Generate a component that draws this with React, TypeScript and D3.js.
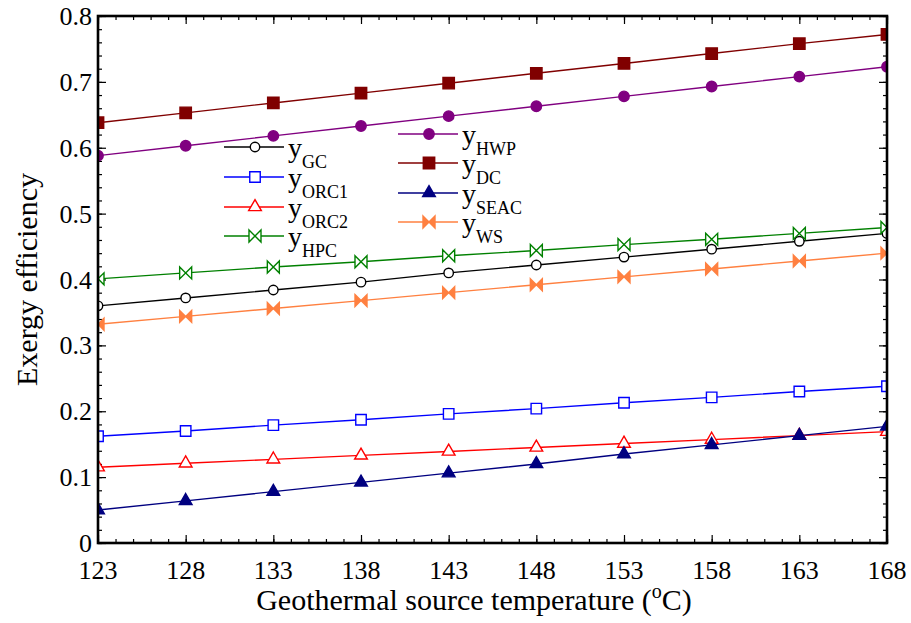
import { useEffect, useRef } from "react";
import * as d3 from "d3";

// Geothermal source temperature (°C)
const temps = [123, 128, 133, 138, 143, 148, 153, 158, 163, 168];

// Exergy efficiency of each subsystem
const yGC = [0.36, 0.372, 0.384, 0.396, 0.41, 0.422, 0.434, 0.446, 0.458, 0.47];
const yORC1 = [0.162, 0.17, 0.179, 0.187, 0.196, 0.204, 0.213, 0.221, 0.23, 0.238];
const yORC2 = [0.115, 0.121, 0.127, 0.133, 0.139, 0.145, 0.151, 0.157, 0.163, 0.169];
const yHPC = [0.401, 0.41, 0.419, 0.427, 0.436, 0.444, 0.453, 0.461, 0.47, 0.479];
const yHWP = [0.588, 0.603, 0.618, 0.633, 0.648, 0.663, 0.678, 0.693, 0.708, 0.723];
const yDC = [0.638, 0.653, 0.668, 0.683, 0.698, 0.713, 0.728, 0.743, 0.758, 0.772];
const ySEAC = [0.05, 0.064, 0.078, 0.092, 0.106, 0.12, 0.135, 0.149, 0.163, 0.177];
const yWS = [0.332, 0.344, 0.356, 0.368, 0.38, 0.392, 0.404, 0.416, 0.428, 0.44];

const xTicks = temps;
const yTicks = [0, 0.1, 0.2, 0.3, 0.4, 0.5, 0.6, 0.7, 0.8];

const FONT = '"Times New Roman", Tinos, "Liberation Serif", "DejaVu Serif", serif';

const bowtie = "M-6,-6L6,6L6,-6L-6,6Z";

const series = [
    { sub: "GC", values: yGC, color: "#000000", marker: "circle", fill: "#ffffff" },
    { sub: "ORC1", values: yORC1, color: "#0000ff", marker: "square", fill: "#ffffff" },
    { sub: "ORC2", values: yORC2, color: "#ff0000", marker: "triangle", fill: "#ffffff" },
    { sub: "HPC", values: yHPC, color: "#008000", marker: "bowtie", fill: "#ffffff" },
    { sub: "HWP", values: yHWP, color: "#800080", marker: "circle", fill: "#800080" },
    { sub: "DC", values: yDC, color: "#800000", marker: "square", fill: "#800000" },
    { sub: "SEAC", values: ySEAC, color: "#000080", marker: "triangle", fill: "#000080" },
    { sub: "WS", values: yWS, color: "#ff8040", marker: "bowtie", fill: "#ff8040" },
];

const markerPath = (type, filled) => {
    if (type === "bowtie") return bowtie;
    if (type === "circle") return d3.symbol(d3.symbolCircle, filled ? 85 : 70)();
    if (type === "square") return d3.symbol(d3.symbolSquare, filled ? 130 : 110)();
    return d3.symbol(d3.symbolTriangle, 70)();
};

const App = () => {
    const chartRef = useRef();

    useEffect(() => {
        const svg = d3.select(chartRef.current);
        svg.selectAll("*").remove();

        const width = 911;
        const height = 623;
        const margin = { top: 16, right: 24, bottom: 80, left: 98 };

        const x = d3
            .scaleLinear()
            .domain([123, 168])
            .range([margin.left, width - margin.right]);

        const y = d3
            .scaleLinear()
            .domain([0, 0.8])
            .range([height - margin.bottom, margin.top]);

        svg.attr("width", width).attr("height", height).attr("viewBox", `0 0 ${width} ${height}`);

        svg.append("rect").attr("width", width).attr("height", height).attr("fill", "#ffffff");

        svg.append("clipPath")
            .attr("id", "plot-clip")
            .append("rect")
            .attr("x", margin.left)
            .attr("y", margin.top)
            .attr("width", width - margin.left - margin.right)
            .attr("height", height - margin.top - margin.bottom);

        // ticks on all four sides, pointing inward
        const minorX = d3.range(123, 168.5, 1);
        const minorY = d3.range(0, 0.801, 0.02);
        const tickGroups = [
            { axis: d3.axisBottom, scale: x, pos: `translate(0,${y(0)})` },
            { axis: d3.axisTop, scale: x, pos: `translate(0,${y(0.8)})` },
            { axis: d3.axisLeft, scale: y, pos: `translate(${x(123)},0)` },
            { axis: d3.axisRight, scale: y, pos: `translate(${x(168)},0)` },
        ];
        tickGroups.forEach((t) => {
            const isX = t.scale === x;
            [
                { vals: isX ? minorX : minorY, size: -4 },
                { vals: isX ? xTicks : yTicks, size: -8 },
            ].forEach((o) => {
                const g = svg
                    .append("g")
                    .attr("transform", t.pos)
                    .call(t.axis(t.scale).tickValues(o.vals).tickSize(o.size).tickFormat(() => ""));
                g.select(".domain").remove();
                g.selectAll("line").attr("stroke", "#000").attr("stroke-width", 1.2);
                g.selectAll("text").remove();
            });
        });

        // lines and markers
        const line = d3
            .line()
            .x((d, i) => x(temps[i]))
            .y((d) => y(d));

        const plot = svg.append("g").attr("clip-path", "url(#plot-clip)");
        series.forEach((s) => {
            plot.append("path")
                .datum(s.values)
                .attr("d", line)
                .attr("fill", "none")
                .attr("stroke", s.color)
                .attr("stroke-width", 1.4);
        });
        series.forEach((s) => {
            const filled = s.fill !== "#ffffff";
            plot.selectAll(null)
                .data(s.values)
                .enter()
                .append("path")
                .attr("transform", (d, i) => `translate(${x(temps[i])},${y(d)})`)
                .attr("d", markerPath(s.marker, filled))
                .attr("fill", s.fill)
                .attr("stroke", s.color)
                .attr("stroke-width", 1.4);
        });

        // frame
        svg.append("rect")
            .attr("x", margin.left)
            .attr("y", margin.top)
            .attr("width", width - margin.left - margin.right)
            .attr("height", height - margin.top - margin.bottom)
            .attr("fill", "none")
            .attr("stroke", "#000")
            .attr("stroke-width", 2.6);

        const txt = svg.append("g").style("font-family", FONT);

        // tick labels
        txt.selectAll("text.xtick")
            .data(xTicks)
            .enter()
            .append("text")
            .attr("x", (d) => x(d))
            .attr("y", y(0) + 36)
            .attr("text-anchor", "middle")
            .style("font-size", "26px")
            .text((d) => d);

        txt.selectAll("text.ytick")
            .data(yTicks)
            .enter()
            .append("text")
            .attr("x", x(123) - 6)
            .attr("y", (d) => y(d) + 9)
            .attr("text-anchor", "end")
            .style("font-size", "26px")
            .text((d) => (d === 0 ? "0" : d3.format(".1f")(d)));

        // axis titles
        const xt = txt.append("text")
            .attr("x", 474)
            .attr("y", 610)
            .attr("text-anchor", "middle")
            .style("font-size", "30px");
        xt.append("tspan").text("Geothermal source temperature (");
        xt.append("tspan").style("font-size", "20px").attr("dy", -12).text("o");
        xt.append("tspan").attr("dy", 12).text("C)");

        txt.append("text")
            .attr("transform", `translate(37,${(y(0) + y(0.8)) / 2}) rotate(-90)`)
            .attr("text-anchor", "middle")
            .style("font-size", "30px")
            .text("Exergy efficiency");

        // legend, two columns
        const legendPos = [
            [224, 147], [224, 177], [224, 207], [224, 236],
            [398, 134], [398, 163], [398, 193], [398, 222],
        ];
        series.forEach((s, i) => {
            const [lx, ly] = legendPos[i];
            const filled = s.fill !== "#ffffff";
            const g = txt.append("g").attr("transform", `translate(${lx},${ly})`);
            g.append("line").attr("x1", 0).attr("x2", 60).attr("stroke", s.color).attr("stroke-width", 1.4);
            g.append("path")
                .attr("transform", "translate(31,0)")
                .attr("d", markerPath(s.marker, filled))
                .attr("fill", s.fill)
                .attr("stroke", s.color)
                .attr("stroke-width", 1.4);
            const t = g.append("text")
                .attr("x", 64)
                .attr("y", 10)
                .style("font-size", "28px");
            t.append("tspan").text("y");
            t.append("tspan").style("font-size", "18px").attr("dy", 11).text(s.sub);
        });
    }, []);

    return (
        <div style={{ position: "absolute", left: 0, top: 0 }}>
            <svg ref={chartRef} style={{ display: "block" }}></svg>
        </div>
    );
};

export default App;
